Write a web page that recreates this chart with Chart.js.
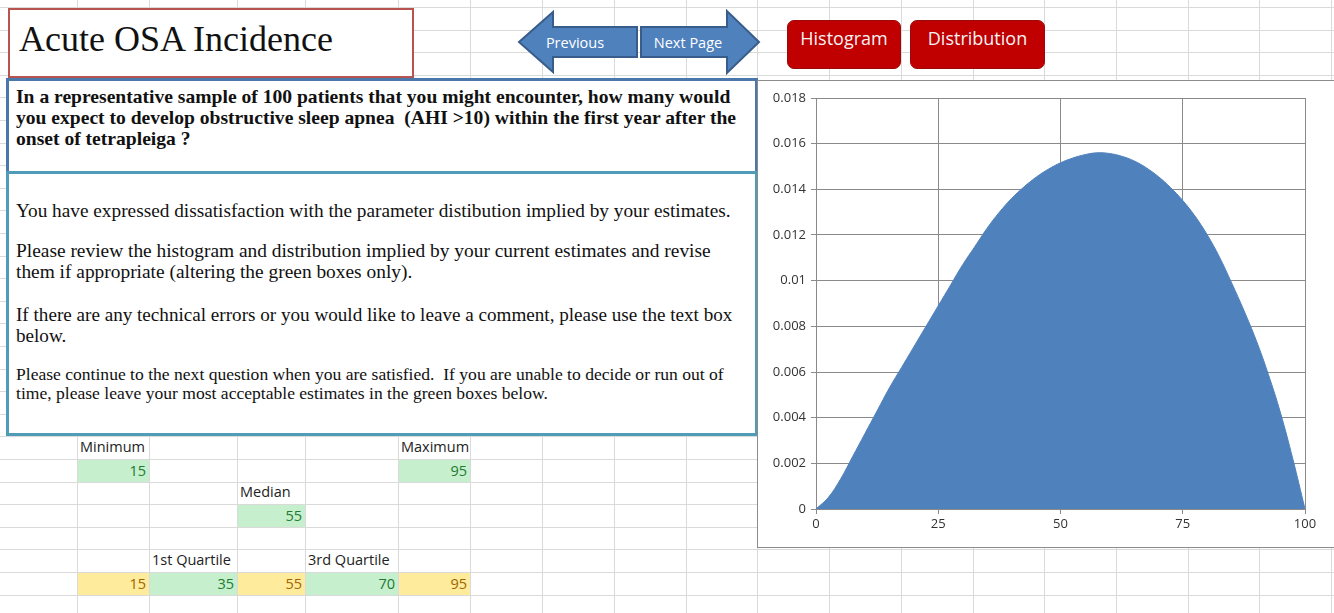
<!DOCTYPE html>
<html>
<head>
<meta charset="utf-8">
<script src="https://cdn.jsdelivr.net/npm/chart.js@4.4.1/dist/chart.umd.min.js"></script>
<style>
  body { margin:0; width:1334px; height:613px; overflow:hidden; background:#fff; position:relative; font-family:"Open Sans", sans-serif; }
  .gl { position:absolute; background:#dadada; }
  .box { position:absolute; background:#fff; box-sizing:border-box; }
  .serif { font-family:"Liberation Serif", serif; color:#111; white-space:nowrap; position:absolute; left:16px; }
  .cell { position:absolute; font-size:14.5px; color:#222; white-space:nowrap; box-sizing:border-box; padding:0 3px; line-height:22px; }
  .num { text-align:right; }
  .green { background:#c6efce; color:#217a2f; }
  .yellow { background:#ffeb9c; color:#9c6500; }
  .btn { position:absolute; background:#c00000; border:1px solid #9a0a0a; border-radius:7px; color:#f4f4f4; font-size:18px; text-align:center; box-sizing:border-box; padding-top:5px; }
</style>
</head>
<body>

<div id="grid"></div>

<!-- title -->
<div class="box" style="left:8px; top:8px; width:406px; height:70px; border:2px solid #b85450;">
  <div class="serif" style="left:9px; top:8px; font-size:36px; color:#111;">Acute OSA Incidence</div>
</div>

<!-- arrows -->
<svg style="position:absolute; left:0; top:0;" width="780" height="80">
  <polygon points="519,42 553,12 553,27 637,27 637,57 553,57 553,72" fill="#4f81bd" stroke="#385d8a" stroke-width="2"/>
  <polygon points="641,27 727,27 727,11 759,42 727,73 727,57 641,57" fill="#4f81bd" stroke="#385d8a" stroke-width="2"/>
  <text x="575" y="48" fill="#fff" font-family="Open Sans" font-size="14.5" text-anchor="middle">Previous</text>
  <text x="688" y="48" fill="#fff" font-family="Open Sans" font-size="14.5" text-anchor="middle">Next Page</text>
</svg>

<div class="btn" style="left:787px; top:20px; width:114px; height:49px;">Histogram</div>
<div class="btn" style="left:910px; top:20px; width:135px; height:49px;">Distribution</div>

<!-- question -->
<div class="box" style="left:6px; top:78px; width:752px; height:96px; border:3px solid #4a78ab;"></div>
<div class="serif fit" data-w="715" style="top:86px; font-weight:bold; font-size:16px; line-height:21px;">
  <div class="ln">In a representative sample of 100 patients that you might encounter, how many would</div>
  <div>you expect to develop obstructive sleep apnea&nbsp; (AHI &gt;10) within the first year after the</div>
  <div>onset of tetrapleiga ?</div>
</div>

<!-- instructions -->
<div class="box" style="left:6px; top:171px; width:752px; height:265px; border:3px solid #4f9bb8;"></div>
<div class="serif fit" data-w="715" style="top:200px; font-size:16px; line-height:21px;">
  <div class="ln">You have expressed dissatisfaction with the parameter distibution implied by your estimates.</div>
</div>
<div class="serif fit" data-w="695" style="top:240px; font-size:16px; line-height:21px;">
  <div class="ln">Please review the histogram and distribution implied by your current estimates and revise</div>
  <div>them if appropriate (altering the green boxes only).</div>
</div>
<div class="serif fit" data-w="717" style="top:304px; font-size:16px; line-height:21px;">
  <div class="ln">If there are any technical errors or you would like to leave a comment, please use the text box</div>
  <div>below.</div>
</div>
<div class="serif fit" data-w="708" style="top:365px; font-size:15px; line-height:19px;">
  <div class="ln">Please continue to the next question when you are satisfied.&nbsp; If you are unable to decide or run out of</div>
  <div>time, please leave your most acceptable estimates in the green boxes below.</div>
</div>

<!-- cells -->
<div id="cells"></div>

<!-- chart -->
<div class="box" style="left:757px; top:80px; width:580px; height:468px; border:1px solid #8c8c8c;">
  <canvas id="myChart" width="578" height="466" style="position:absolute; left:0; top:0;"></canvas>
</div>

<script>
// distribution
var xValues = [0, 2.5, 5, 7.5, 10, 12.5, 15, 17.5, 20, 22.5, 25, 27.5, 30, 32.5, 35, 37.5, 40, 42.5, 45, 47.5, 50,
               52.5, 55, 57.5, 60, 62.5, 65, 67.5, 70, 72.5, 75, 77.5, 80, 82.5, 85, 87.5, 90, 92.5, 95, 97.5, 100];
var densityValues = [0, 0.0005, 0.0013, 0.0023, 0.0033, 0.0043, 0.0053, 0.0062, 0.0071, 0.0080, 0.0089,
                     0.0098, 0.0107, 0.0115, 0.0123, 0.0130, 0.0136, 0.0141, 0.01453, 0.01488, 0.01516,
                     0.01537, 0.01552, 0.0156, 0.01557, 0.01545, 0.01525, 0.01495, 0.01456, 0.01408, 0.01351,
                     0.01283, 0.01201, 0.01104, 0.0099, 0.0087, 0.0074, 0.0059, 0.0042, 0.0022, 0];
var yTickLabels = ['0', '0.002', '0.004', '0.006', '0.008', '0.01', '0.012', '0.014', '0.016', '0.018'];
var xTickLabels = ['0', '25', '50', '75', '100'];

// worksheet cells
var labelCells = [['Minimum', 77, 72, 436], ['Maximum', 398, 72, 436], ['Median', 237, 68, 481],
                  ['1st Quartile', 149, 88, 549], ['3rd Quartile', 305, 93, 549]];
var valueCells = [['15', 77, 72, 459, 'green'], ['95', 398, 72, 459, 'green'], ['55', 237, 68, 504, 'green'],
                  ['15', 77, 72, 572, 'yellow'], ['35', 149, 88, 572, 'green'], ['55', 237, 68, 572, 'yellow'],
                  ['70', 305, 93, 572, 'green'], ['95', 398, 72, 572, 'yellow']];

var colLines = [77, 149, 237, 305, 398, 470, 542, 614, 686, 757, 829, 901, 973, 1044, 1116, 1188, 1259, 1331];
var grid = document.getElementById('grid');
colLines.forEach(function(x) {
  var d = document.createElement('div'); d.className = 'gl';
  d.style.cssText = 'left:' + x + 'px;top:0;width:1px;height:613px;';
  grid.appendChild(d);
});
for (var r = 0; r < 28; r++) {
  var d = document.createElement('div'); d.className = 'gl';
  d.style.cssText = 'left:0;top:' + Math.round(7 + r * 22.6) + 'px;width:1334px;height:1px;';
  grid.appendChild(d);
}

var cells = document.getElementById('cells');
labelCells.forEach(function(c) {
  var d = document.createElement('div'); d.className = 'cell';
  d.style.cssText = 'left:' + c[1] + 'px;top:' + c[3] + 'px;width:' + c[2] + 'px;height:22px;';
  d.textContent = c[0]; cells.appendChild(d);
});
valueCells.forEach(function(c) {
  var d = document.createElement('div'); d.className = 'cell num ' + c[4];
  d.style.cssText = 'left:' + (c[1] + 1) + 'px;top:' + (c[3] + 1) + 'px;width:' + (c[2] - 1) + 'px;height:22px;';
  d.textContent = c[0]; cells.appendChild(d);
});

// squeeze the serif text to the reference line widths
document.querySelectorAll('.fit').forEach(function(el) {
  var ln = el.querySelector('.ln');
  ln.style.display = 'inline-block';
  var w = ln.getBoundingClientRect().width;
  var fs = parseFloat(getComputedStyle(el).fontSize);
  el.style.fontSize = (fs * parseFloat(el.dataset.w) / w) + 'px';
  ln.style.display = 'block';
});

var ctx = document.getElementById('myChart').getContext('2d');
var myChart = new Chart(ctx, {
  type: 'line',
  data: {
    datasets: [{
      data: xValues.map(function(x, i) { return { x: x, y: densityValues[i] }; }),
      backgroundColor: '#4f81bd',
      borderColor: '#4f81bd',
      borderWidth: 1,
      pointRadius: 0,
      fill: 'origin',
      tension: 0.4
    }]
  },
  options: {
    responsive: false,
    animation: false,
    layout: { padding: { left: 0, top: 17, right: 31, bottom: 0 } },
    plugins: { legend: { display: false }, tooltip: { enabled: false } },
    scales: {
      x: {
        type: 'linear', min: 0, max: 100,
        afterFit: function(s) { s.height = 38; },
        grid: { color: '#8a8a8a', tickLength: 5 },
        border: { color: '#8a8a8a' },
        ticks: {
          stepSize: 25, padding: 2, color: '#333',
          font: { family: 'Open Sans', size: 13 },
          callback: function(v, i) { return xTickLabels[i]; }
        }
      },
      y: {
        min: 0, max: 0.018,
        afterFit: function(s) { s.width = 58; },
        grid: { color: '#8a8a8a', tickLength: 5 },
        border: { color: '#8a8a8a' },
        ticks: {
          stepSize: 0.002, padding: 5, color: '#333',
          font: { family: 'Open Sans', size: 13 },
          callback: function(v, i) { return yTickLabels[i]; }
        }
      }
    }
  }
});
</script>
</body>
</html>
